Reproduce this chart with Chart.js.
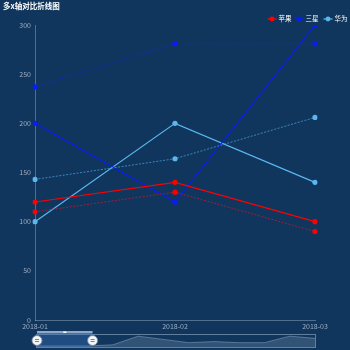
<!DOCTYPE html>
<html>
<head>
<meta charset="utf-8">
<script src="https://cdn.jsdelivr.net/npm/chart.js@4.4.1/dist/chart.umd.min.js"></script>
<style>
  html, body { margin: 0; padding: 0; background: #10365d; }
  #wrap { position: relative; width: 350px; height: 350px; background: #10365d; }
  #main { position: absolute; left: 0; top: 0; }
  #zoom { position: absolute; left: 0; top: 330px; }
</style>
</head>
<body>
<div id="wrap">
  <canvas id="main" width="350" height="332"></canvas>
  <canvas id="zoom" width="350" height="20"></canvas>
</div>
<script>
const months = ['2018-01', '2018-02', '2018-03'];
const brands = ['苹果', '三星', '华为'];

// solid lines (first x axis)
const appleA = [120, 140, 100];
const samsungA = [200, 120, 300];
const huaweiA = [100, 200, 140];
// dotted lines (second x axis)
const appleB = [110, 130, 90];
const samsungB = [237, 281, 281];
const huaweiB = [143, 164, 206];

const yTicks = [0, 50, 100, 150, 200, 250, 300];

// overview strip under the chart
const sparkValues = [1, 1, 1, 2, 10, 7, 4, 5, 4, 4, 10, 8];
const zoomStart = 0, zoomEnd = 20; // percent

const brandColors = ['#ff0000', '#0a1cf5', '#5ab8ee'];
const brandColorsDim = ['rgba(220,20,40,0.7)', 'rgba(20,40,210,0.8)', 'rgba(80,170,230,0.7)'];

const axisColor = 'rgba(200,215,235,0.35)';
const tickColor = 'rgba(200,210,225,0.75)';
const fontFam = '"Noto Sans CJK SC", "Noto Sans", sans-serif';

function lineSet(label, data, color, lineColor, dashed){
  return {
    label: label,
    data: data,
    borderColor: lineColor,
    backgroundColor: color,
    pointBackgroundColor: color,
    pointBorderColor: color,
    pointBorderWidth: 0,
    pointRadius: 2.6,
    pointHoverRadius: 2.6,
    borderWidth: dashed ? 1 : 1.2,
    borderDash: dashed ? [2, 1.5] : [],
    fill: false,
    tension: 0
  };
}

// title + legend in the top strip
const headerPlugin = {
  id: 'header',
  afterDraw(chart){
    const ctx = chart.ctx;
    ctx.save();
    ctx.fillStyle = '#ffffff';
    ctx.font = 'bold 7.5px ' + fontFam;
    ctx.textBaseline = 'middle';
    ctx.textAlign = 'left';
    ctx.fillText('多x轴对比折线图', 3, 6);

    ctx.font = '6.5px ' + fontFam;
    const xs = [272, 299, 328];
    brands.forEach((b, i) => {
      const cx = xs[i], cy = 19;
      ctx.strokeStyle = brandColors[i];
      ctx.lineWidth = 1.3;
      ctx.beginPath();
      ctx.moveTo(cx - 4.5, cy);
      ctx.lineTo(cx + 4.5, cy);
      ctx.stroke();
      ctx.fillStyle = brandColors[i];
      ctx.beginPath();
      ctx.arc(cx, cy, 2.4, 0, Math.PI * 2);
      ctx.fill();
      ctx.fillStyle = '#ffffff';
      ctx.fillText(b, cx + 6.5, cy);
    });
    ctx.restore();
  }
};

new Chart(document.getElementById('main').getContext('2d'), {
  type: 'line',
  data: {
    labels: months,
    datasets: [
      lineSet(brands[0], appleB, brandColors[0], brandColorsDim[0], true),
      lineSet(brands[1], samsungB, brandColors[1], brandColorsDim[1], true),
      lineSet(brands[2], huaweiB, brandColors[2], brandColorsDim[2], true),
      lineSet(brands[0], appleA, brandColors[0], brandColors[0], false),
      lineSet(brands[1], samsungA, brandColors[1], brandColors[1], false),
      lineSet(brands[2], huaweiA, brandColors[2], brandColors[2], false)
    ]
  },
  options: {
    responsive: false,
    animation: false,
    layout: { padding: { top: 25, right: 35, left: 0, bottom: 0 } },
    plugins: { legend: { display: false }, tooltip: { enabled: false } },
    scales: {
      x: {
        offset: false,
        grid: { display: false, drawTicks: false },
        border: { color: axisColor, width: 1 },
        ticks: { color: tickColor, font: { size: 7, family: fontFam }, padding: 2, maxRotation: 0 },
        afterFit: s => { s.height = 12; }
      },
      y: {
        min: 0, max: 300,
        afterBuildTicks: s => { s.ticks = yTicks.map(v => ({ value: v })); },
        grid: { display: false, drawTicks: false },
        border: { color: axisColor, width: 1 },
        ticks: { color: tickColor, font: { size: 7, family: fontFam }, padding: 4 },
        afterFit: s => { s.width = 35; }
      }
    }
  },
  plugins: [headerPlugin]
});

// selection window + handles on the overview strip
const windowPlugin = {
  id: 'zoomWindow',
  afterDraw(chart){
    const ctx = chart.ctx;
    const a = chart.chartArea;
    const x0 = a.left + (a.right - a.left) * zoomStart / 100;
    const x1 = a.left + (a.right - a.left) * zoomEnd / 100;
    const cy = (a.top + a.bottom) / 2;
    ctx.save();
    ctx.strokeStyle = 'rgba(200,215,235,0.45)';
    ctx.lineWidth = 1;
    ctx.strokeRect(a.left - 0.5, a.top + 0.5, a.right - a.left + 1, a.bottom - a.top);
    ctx.fillStyle = 'rgba(60,120,200,0.35)';
    ctx.fillRect(x0, a.top, x1 - x0, a.bottom - a.top);
    // bar over the selected span
    ctx.fillStyle = 'rgba(190,205,230,0.75)';
    ctx.fillRect(x0, a.top - 3, x1 - x0, 2.5);
    ctx.fillStyle = '#ffffff';
    ctx.fillRect((x0 + x1) / 2 - 1.5, a.top - 2.5, 3, 1.5);
    // handles
    [x0, x1].forEach(x => {
      ctx.fillStyle = '#f2f4f8';
      ctx.strokeStyle = 'rgba(120,130,150,0.9)';
      ctx.beginPath();
      ctx.arc(x, cy, 5, 0, Math.PI * 2);
      ctx.fill();
      ctx.stroke();
      ctx.strokeStyle = '#7a8496';
      ctx.beginPath();
      ctx.moveTo(x - 2, cy - 1);
      ctx.lineTo(x + 2, cy - 1);
      ctx.moveTo(x - 2, cy + 1);
      ctx.lineTo(x + 2, cy + 1);
      ctx.stroke();
    });
    ctx.restore();
  }
};

new Chart(document.getElementById('zoom').getContext('2d'), {
  type: 'line',
  data: {
    labels: sparkValues.map((v, i) => i),
    datasets: [{
      data: sparkValues,
      borderColor: 'rgba(200,215,235,0.35)',
      backgroundColor: 'rgba(200,215,235,0.18)',
      borderWidth: 1,
      pointRadius: 0,
      fill: 'origin',
      tension: 0
    }]
  },
  options: {
    responsive: false,
    animation: false,
    layout: { padding: { top: 4, bottom: 3, left: 37, right: 35 } },
    plugins: { legend: { display: false }, tooltip: { enabled: false } },
    scales: {
      x: { display: false, offset: false },
      y: { display: false, min: 0, max: 12 }
    }
  },
  plugins: [windowPlugin]
});
</script>
</body>
</html>
